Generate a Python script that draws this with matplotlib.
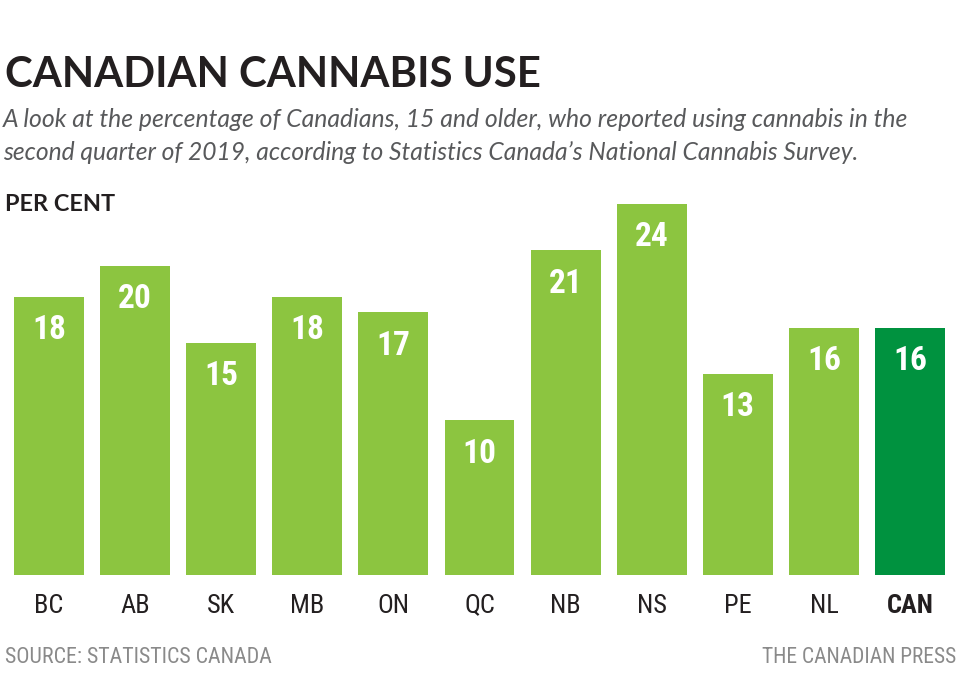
import matplotlib
matplotlib.use('Agg')
import matplotlib.pyplot as plt
from matplotlib import font_manager

LIGHT = '#8cc540'; DARK = '#00923f'; INK = '#231f20'; GREY = '#8a8a8a'; SUB = '#58595b'

provinces = ['BC', 'AB', 'SK', 'MB', 'ON', 'QC', 'NB', 'NS', 'PE', 'NL', 'CAN']
pct = [18, 20, 15, 18, 17, 10, 21, 24, 13, 16, 16]

names = {f.name for f in font_manager.fontManager.ttflist}
NARROW = [n for n in ['Roboto Condensed', 'Liberation Sans Narrow', 'Open Sans', 'DejaVu Sans'] if n in names]
MAIN = ['Lato', 'Open Sans', 'DejaVu Sans']

fig = plt.figure(figsize=(9.6, 6.94), dpi=100)
fig.patch.set_facecolor('white')
W, H = 960, 694

def fit(t, width_px):
    # shrink/grow a text so it spans the same width as in the reference
    r = fig.canvas.get_renderer()
    w = t.get_window_extent(r).width
    t.set_fontsize(t.get_fontsize() * width_px / w)

title = fig.text(5/W, 1-87/H, 'CANADIAN CANNABIS USE', family=MAIN, fontweight='bold',
                 fontsize=33, color=INK, ha='left', va='baseline')
s1 = fig.text(3/W, 1-127/H, 'A look at the percentage of Canadians, 15 and older, who reported using cannabis in the',
              family=MAIN, style='italic', fontsize=16, color=SUB, ha='left', va='baseline')
s2 = fig.text(3/W, 1-160/H, 'second quarter of 2019, according to Statistics Canada\u2019s National Cannabis Survey.',
              family=MAIN, style='italic', fontsize=16, color=SUB, ha='left', va='baseline')
pc = fig.text(5/W, 1-211/H, 'PER CENT', family=MAIN, fontweight='bold', fontsize=16,
              color=INK, ha='left', va='baseline')

ax = fig.add_axes([14/W, 119/H, 931/W, 371/H])
x = list(range(len(provinces)))
colors = [LIGHT] * (len(provinces) - 1) + [DARK]
bars = ax.bar(x, pct, width=0.813, color=colors, edgecolor='none')
ax.set_xlim(-0.4065, len(provinces) - 1 + 0.4065)
ax.set_ylim(0, 24)
ax.axis('off')

for b, v in zip(bars, pct):
    ax.annotate(str(v), (b.get_x() + b.get_width()/2, v), xytext=(0, -24),
                textcoords='offset points', ha='center', va='center',
                color='white', fontsize=24, fontweight='bold', family=NARROW)

for i, p in enumerate(provinces):
    ax.annotate(p, (i, 0), xytext=(0, -22), textcoords='offset points', ha='center',
                va='center', fontsize=19, color=INK, family=NARROW,
                fontweight='bold' if p == 'CAN' else 'normal', annotation_clip=False)

src = fig.text(5/W, 1-663/H, 'SOURCE: STATISTICS CANADA', family=NARROW, fontsize=15.5,
               color=GREY, ha='left', va='baseline')
cp = fig.text(956/W, 1-663/H, 'THE CANADIAN PRESS', family=NARROW, fontsize=15.5,
              color=GREY, ha='right', va='baseline')

fit(title, 537); fit(s1, 907); fit(s2, 857); fit(pc, 110); fit(src, 267)

plt.savefig('out.png', dpi=100, facecolor='white')
plt.close()
